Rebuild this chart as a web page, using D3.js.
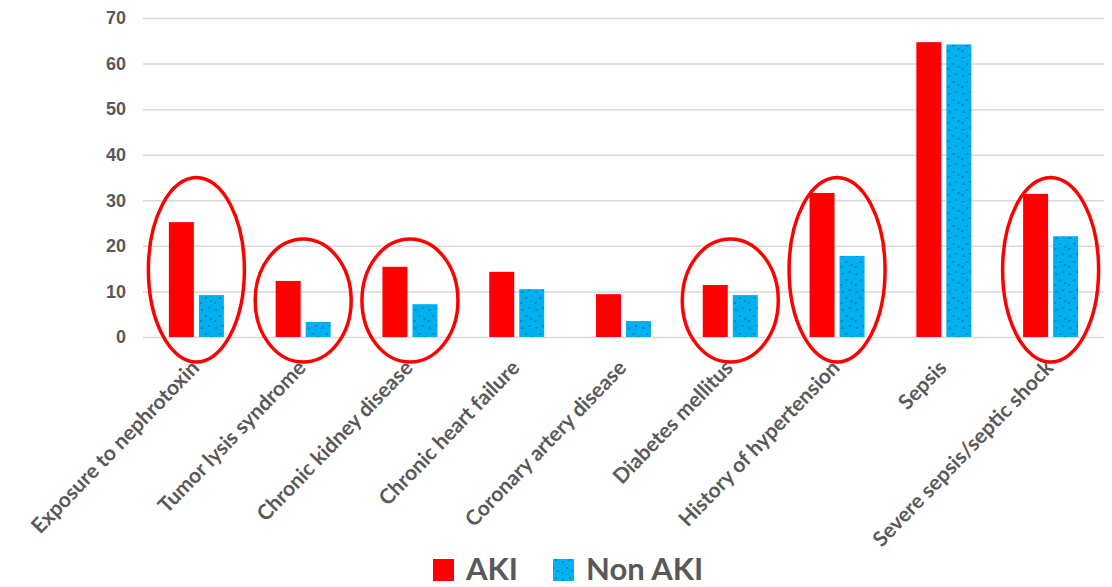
<!DOCTYPE html>
<html>
<head>
<meta charset="utf-8">
<script src="https://cdn.jsdelivr.net/npm/d3@7"></script>
<style>
  html, body { margin: 0; padding: 0; background: #fff; }
  svg { display: block; font-family: Lato, "Open Sans", sans-serif; }
  .tick text { fill: #595959; font-weight: bold; }
</style>
</head>
<body>
<svg width="1112" height="587"></svg>
<script>
const categories = [
  "Exposure to nephrotoxin", "Tumor lysis syndrome", "Chronic kidney disease",
  "Chronic heart failure", "Coronary artery disease", "Diabetes mellitus",
  "History of hypertension", "Sepsis", "Severe sepsis/septic shock"
];
const akiValues = [25.2, 12.3, 15.4, 14.3, 9.4, 11.4, 31.6, 64.7, 31.4];
const nonAkiValues = [9.2, 3.3, 7.2, 10.5, 3.5, 9.2, 17.8, 64.2, 22.1];
const seriesNames = ["AKI", "Non AKI"];
const yTicks = [0, 10, 20, 30, 40, 50, 60, 70];
// circled groups: top of the ellipse in data units
const circled = [
  { cat: "Exposure to nephrotoxin", top: 35 },
  { cat: "Tumor lysis syndrome", top: 21.5 },
  { cat: "Chronic kidney disease", top: 21.5 },
  { cat: "Diabetes mellitus", top: 21.5 },
  { cat: "History of hypertension", top: 35 },
  { cat: "Severe sepsis/septic shock", top: 35 }
];
const circleBottom = -5.5;

const colors = { "AKI": "#FF0000", "Non AKI": "#00B0F0" };
const svg = d3.select("svg");

const x = d3.scaleBand().domain(categories).range([143, 1104]).paddingInner(0);
const xs = d3.scaleBand().domain(seriesNames)
  .range([x.bandwidth() / 2 - 27.5, x.bandwidth() / 2 + 27.5]).paddingInner(0.167);
const y = d3.scaleLinear().domain([0, 70]).range([337, 18]);

// dotted pattern for the Non AKI bars
const defs = svg.append("defs");
const pat = defs.append("pattern")
  .attr("id", "dots").attr("patternUnits", "userSpaceOnUse")
  .attr("width", 14).attr("height", 18);
pat.append("rect").attr("width", 14).attr("height", 18).attr("fill", colors["Non AKI"]);
[[3, 4], [10, 2], [7, 10], [12, 13], [2, 15]].forEach(p => {
  pat.append("circle").attr("cx", p[0]).attr("cy", p[1]).attr("r", 0.8).attr("fill", "#1d4f6e");
});

// gridlines + y labels
const yAxis = svg.append("g")
  .attr("transform", "translate(143,0)")
  .call(d3.axisLeft(y).tickValues(yTicks).tickSize(-(1104 - 143)).tickPadding(17));
yAxis.select(".domain").remove();
yAxis.selectAll(".tick line").attr("stroke", "#d9d9d9").attr("stroke-width", 1.5);
yAxis.selectAll(".tick text").attr("font-size", 18);

// bars
const rows = categories.map((c, i) => ({ cat: c, vals: [
  { key: "AKI", v: akiValues[i] }, { key: "Non AKI", v: nonAkiValues[i] }
]}));
const groups = svg.append("g").selectAll("g")
  .data(rows).enter().append("g")
  .attr("transform", d => `translate(${x(d.cat)},0)`);
groups.selectAll("rect")
  .data(d => d.vals).enter().append("rect")
  .attr("x", d => xs(d.key))
  .attr("y", d => y(d.v))
  .attr("width", xs.bandwidth())
  .attr("height", d => y(0) - y(d.v))
  .attr("fill", d => d.key === "AKI" ? colors["AKI"] : "url(#dots)");

// x labels
svg.append("g").selectAll("text")
  .data(categories).enter().append("text")
  .attr("transform", d => `translate(${x(d) + x.bandwidth() / 2 + 4},${y(0) + 32}) rotate(-46)`)
  .attr("text-anchor", "end")
  .attr("font-size", 21)
  .attr("font-weight", "bold")
  .attr("fill", "#595959")
  .text(d => d);

// red ellipses
svg.append("g").selectAll("ellipse")
  .data(circled).enter().append("ellipse")
  .attr("cx", d => x(d.cat) + x.bandwidth() / 2)
  .attr("cy", d => (y(d.top) + y(circleBottom)) / 2)
  .attr("rx", 48)
  .attr("ry", d => (y(circleBottom) - y(d.top)) / 2)
  .attr("fill", "none")
  .attr("stroke", "#FF0000")
  .attr("stroke-width", 3.5);

// legend
const legend = svg.append("g");
const legendX = [433, 553];
seriesNames.forEach((s, i) => {
  legend.append("rect")
    .attr("x", legendX[i]).attr("y", 559)
    .attr("width", 21).attr("height", 22)
    .attr("fill", s === "AKI" ? colors[s] : "url(#dots)");
  legend.append("text")
    .attr("x", legendX[i] + 33).attr("y", 580)
    .attr("font-size", 31).attr("font-weight", "bold")
    .attr("fill", "#595959")
    .text(s);
});
</script>
</body>
</html>
